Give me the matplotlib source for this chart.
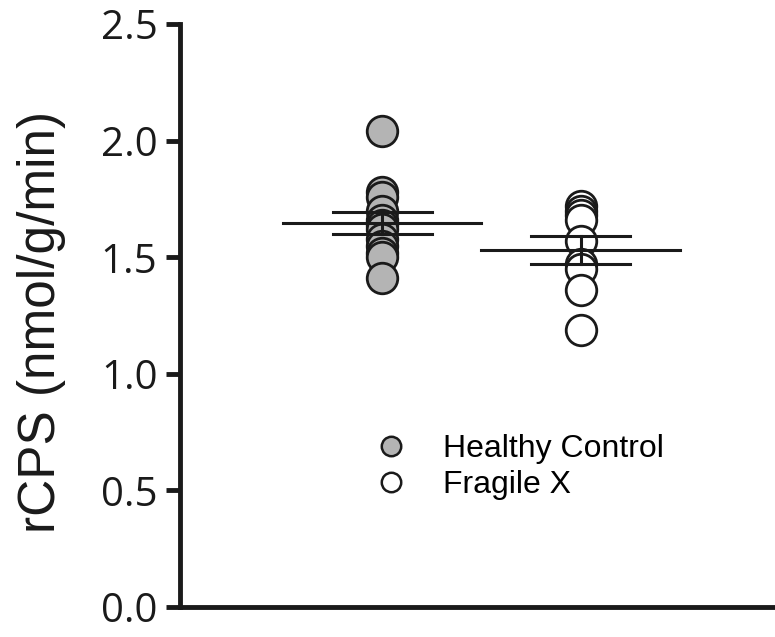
import numpy as np
import matplotlib.pyplot as plt
from matplotlib.lines import Line2D

# data
groups = ["Healthy Control", "Fragile X"]
healthy = [2.04, 1.78, 1.76, 1.70, 1.66, 1.64, 1.62, 1.58, 1.55, 1.52, 1.50, 1.41]
fragile = [1.72, 1.70, 1.68, 1.66, 1.57, 1.47, 1.45, 1.36, 1.19]
positions = [1, 2]
face_colors = ["#b4b4b4", "white"]
yticks = [0.0, 0.5, 1.0, 1.5, 2.0, 2.5]

fig = plt.figure(figsize=(7.75, 6.37), dpi=100)
ax = fig.add_axes([0.232, 0.047, 0.768, 0.915])

for vals, x, fc in zip([healthy, fragile], positions, face_colors):
    vals = np.array(vals)
    ax.plot(np.full(len(vals), x), vals, 'o', ms=22, mfc=fc, mec='#1a1a1a',
            mew=2.0, ls='none', zorder=2, clip_on=False)
    mean = vals.mean()
    sem = vals.std(ddof=1) / np.sqrt(len(vals))
    ax.plot([x - 0.5, x + 0.5], [mean, mean], color='#1a1a1a', lw=2.2, zorder=3)
    ax.plot([x - 0.25, x + 0.25], [mean + sem] * 2, color='#1a1a1a', lw=2.2, zorder=3)
    ax.plot([x - 0.25, x + 0.25], [mean - sem] * 2, color='#1a1a1a', lw=2.2, zorder=3)
    ax.plot([x, x], [mean - sem, mean + sem], color='#1a1a1a', lw=2.2, zorder=3)

ax.set_xlim(-0.02, 2.98)
ax.set_ylim(0, 2.5)
ax.set_xticks([])
ax.set_yticks(yticks)
ax.set_yticklabels([f"{t:.1f}" for t in yticks], family='Open Sans', fontsize=29)
ax.tick_params(axis='y', length=10, width=3.5, pad=6, color='#1a1a1a', labelcolor='#1a1a1a')
ax.set_ylabel("rCPS (nmol/g/min)", family='Liberation Sans', fontsize=37, color='#1a1a1a')
ax.yaxis.set_label_coords(-0.191, 0.489)

for side in ['top', 'right']:
    ax.spines[side].set_visible(False)
for side in ['left', 'bottom']:
    ax.spines[side].set_linewidth(3.5)
    ax.spines[side].set_color('#1a1a1a')

handles = [Line2D([], [], marker='o', ls='none', ms=14, mfc=fc, mec='#1a1a1a', mew=1.8)
           for fc in face_colors]
ax.legend(handles, groups, loc='center left', bbox_to_anchor=(0.322, 0.240), frameon=False,
          prop={'family': 'Liberation Sans', 'size': 23}, handletextpad=1.05,
          labelspacing=0.2, handlelength=1.2, borderpad=0, borderaxespad=0)

fig.savefig("out.png", dpi=100)
